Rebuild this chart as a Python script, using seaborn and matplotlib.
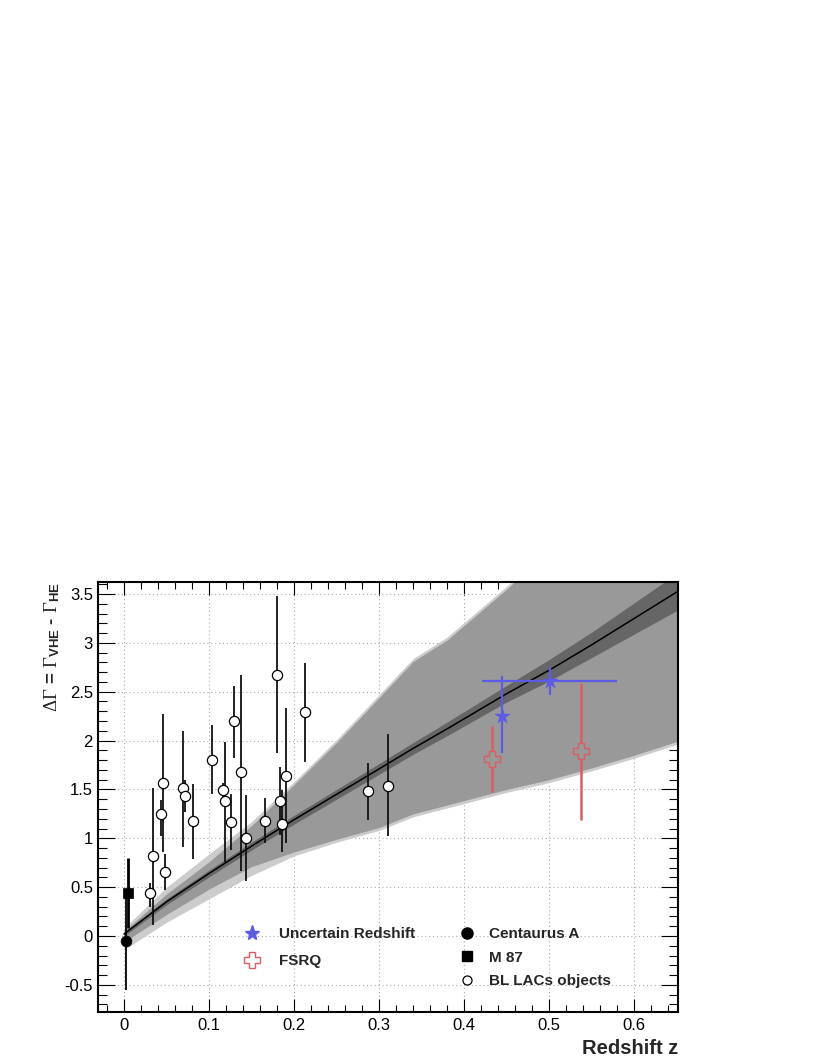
import matplotlib

matplotlib.use("Agg")
import matplotlib.pyplot as plt  # noqa: E402
from matplotlib.lines import Line2D  # noqa: E402
from matplotlib.ticker import FuncFormatter, MultipleLocator  # noqa: E402
import numpy as np  # noqa: E402
import seaborn as sns  # noqa: E402

# --- BL Lac objects: redshift, delta gamma, lower / upper end of error bar
bl_z = [0.031, 0.034, 0.046, 0.044, 0.048, 0.069, 0.072, 0.081, 0.104, 0.1165, 0.119, 0.126,
        0.129, 0.138, 0.143, 0.1655, 0.180, 0.184, 0.186, 0.191, 0.2125, 0.2875, 0.310]
bl_val = [0.44, 0.82, 1.57, 1.245, 0.66, 1.51, 1.43, 1.18, 1.80, 1.49, 1.38, 1.17,
          2.20, 1.675, 1.00, 1.18, 2.675, 1.38, 1.15, 1.64, 2.29, 1.48, 1.54]
bl_lo = [0.30, 0.11, 0.86, 1.02, 0.47, 0.91, 1.27, 0.79, 1.45, 1.41, 0.76, 0.88,
         1.82, 0.67, 0.56, 0.955, 1.87, 1.03, 0.86, 0.955, 1.78, 1.19, 1.02]
bl_hi = [0.54, 1.51, 2.27, 1.39, 0.84, 2.10, 1.60, 1.56, 2.16, 1.57, 1.99, 1.45,
         2.56, 2.67, 1.44, 1.41, 3.48, 1.73, 1.49, 2.33, 2.79, 1.77, 2.07]

# --- Centaurus A and M 87
cena_z, cena_val, cena_lo, cena_hi = [0.0018], [-0.05], [-0.55], [0.45]
m87_z, m87_val, m87_lo, m87_hi = [0.0044], [0.44], [0.08], [0.80]

# --- uncertain redshift (stars) and FSRQ
unc_z = [0.445, 0.5005]
unc_val = [2.255, 2.61]
unc_lo = [1.87, 2.47]
unc_hi = [2.66, 2.75]
unc_zlo = [0.445, 0.421]
unc_zhi = [0.445, 0.580]

fsrq_z = [0.433, 0.537]
fsrq_val = [1.81, 1.89]
fsrq_lo = [1.47, 1.19]
fsrq_hi = [2.15, 2.59]

# --- model curve and its uncertainty bands
band_z = [0.0, 0.05, 0.10, 0.15, 0.20, 0.25, 0.30, 0.34, 0.38, 0.45, 0.50, 0.55, 0.60, 0.65]
fit_y = [0.02, 0.35, 0.64, 0.92, 1.19, 1.45, 1.71, 1.92, 2.12, 2.48, 2.72, 2.98, 3.25, 3.52]
dark_lo = [0.00, 0.32, 0.605, 0.88, 1.145, 1.40, 1.655, 1.86, 2.05, 2.395, 2.61, 2.85, 3.09, 3.33]
dark_hi = [0.04, 0.38, 0.675, 0.96, 1.235, 1.50, 1.765, 1.98, 2.19, 2.565, 2.83, 3.11, 3.41, 3.71]
mid_lo = [-0.06, 0.22, 0.48, 0.71, 0.86, 0.99, 1.11, 1.25, 1.34, 1.50, 1.60, 1.72, 1.85, 1.99]
mid_hi = [0.05, 0.43, 0.76, 1.13, 1.55, 1.98, 2.44, 2.81, 3.03, 3.55, 3.95, 4.30, 4.70, 5.10]
lt_lo = [-0.14, 0.14, 0.38, 0.62, 0.82, 0.96, 1.08, 1.22, 1.31, 1.47, 1.57, 1.69, 1.82, 1.96]
lt_hi = [0.08, 0.50, 0.84, 1.17, 1.58, 2.01, 2.47, 2.84, 3.06, 3.58, 3.98, 4.33, 4.73, 5.13]

BLUE = "#5b5be6"
RED = "#dc5c64"


def yerr(val, lo, hi):
    val, lo, hi = map(np.asarray, (val, lo, hi))
    return [val - lo, hi - val]


sns.set_theme(style="ticks")
plt.rcParams.update({
    "font.family": ["Liberation Sans", "DejaVu Sans"],
    "axes.unicode_minus": False,
    "mathtext.fontset": "custom",
    "mathtext.rm": "Liberation Serif",
    "mathtext.it": "Liberation Serif:italic",
    "mathtext.bf": "Liberation Sans:bold",
    "axes.axisbelow": "line",
})

fig = plt.figure(figsize=(8.22, 10.64), dpi=100)
ax = fig.add_axes([0.11922, 0.04887, 0.70560, 0.40414])
ax.set_facecolor("white")

ax.fill_between(band_z, lt_lo, lt_hi, color="#cccccc", lw=0, zorder=1.6)
ax.fill_between(band_z, mid_lo, mid_hi, color="#999999", lw=0, zorder=1.7)
ax.fill_between(band_z, dark_lo, dark_hi, color="#666666", lw=0, zorder=1.8)
sns.lineplot(x=band_z, y=fit_y, color="black", lw=1.1, ax=ax, zorder=2)

# error bars
ax.errorbar(bl_z, bl_val, yerr=yerr(bl_val, bl_lo, bl_hi), fmt="none",
            ecolor="#111111", elinewidth=1.3, capsize=0, zorder=3)
ax.errorbar(cena_z, cena_val, yerr=yerr(cena_val, cena_lo, cena_hi), fmt="none",
            ecolor="black", elinewidth=1.3, capsize=0, zorder=3)
ax.errorbar(m87_z, m87_val, yerr=yerr(m87_val, m87_lo, m87_hi), fmt="none",
            ecolor="black", elinewidth=2.0, capsize=0, zorder=3)
ax.errorbar(unc_z, unc_val, yerr=yerr(unc_val, unc_lo, unc_hi),
            xerr=yerr(unc_z, unc_zlo, unc_zhi), fmt="none",
            ecolor=BLUE, elinewidth=1.6, capsize=0, zorder=3)
ax.errorbar(fsrq_z, fsrq_val, yerr=yerr(fsrq_val, fsrq_lo, fsrq_hi), fmt="none",
            ecolor=RED, elinewidth=1.8, capsize=0, zorder=3)

# markers
sns.scatterplot(x=bl_z, y=bl_val, marker="o", s=54, color="white",
                edgecolor="black", linewidth=0.9, ax=ax, zorder=4)
sns.scatterplot(x=cena_z, y=cena_val, marker="o", s=60, color="black",
                edgecolor="black", linewidth=0.5, ax=ax, zorder=4)
sns.scatterplot(x=m87_z, y=m87_val, marker="s", s=45, color="black",
                edgecolor="black", linewidth=0.5, ax=ax, zorder=4)
sns.scatterplot(x=unc_z, y=unc_val, marker="*", s=130, color=BLUE,
                edgecolor=BLUE, linewidth=0.3, ax=ax, zorder=4)
sns.scatterplot(x=fsrq_z, y=fsrq_val, marker="P", s=120, color="#999999",
                edgecolor=RED, linewidth=1.0, ax=ax, zorder=4)

# axes
ax.set_xlim(-0.0306, 0.6515)
ax.set_ylim(-0.778, 3.623)
ax.xaxis.set_major_locator(MultipleLocator(0.1))
ax.xaxis.set_minor_locator(MultipleLocator(0.02))
ax.yaxis.set_major_locator(MultipleLocator(0.5))
ax.yaxis.set_minor_locator(MultipleLocator(0.1))
fmt = FuncFormatter(lambda v, _: f"{v:g}")
ax.xaxis.set_major_formatter(fmt)
ax.yaxis.set_major_formatter(fmt)
ax.tick_params(which="both", direction="in", top=True, right=True,
               colors="black", width=0.8, labelsize=12)
ax.tick_params(axis="x", which="major", length=9.4, pad=4.5)
ax.tick_params(axis="x", which="minor", length=4.7)
ax.tick_params(axis="y", which="major", length=12.5, pad=3.6)
ax.tick_params(axis="y", which="minor", length=6.2)
ax.grid(True, which="major", color="#aaaaaa", linestyle=(0, (1, 2.5)), lw=0.8)
for sp in ax.spines.values():
    sp.set_color("black")
    sp.set_linewidth(1.5)
    sp.set_zorder(5)

ax.set_ylabel(r"$\Delta\Gamma$ = $\Gamma_{\mathbf{VHE}}$ - $\Gamma_{\mathbf{HE}}$",
              loc="top", fontsize=13.5, fontweight="bold")
ax.yaxis.set_label_coords(-0.062, 1.0)
ax.set_xlabel("Redshift z", loc="right", fontsize=14.5, fontweight="bold")
ax.xaxis.set_label_coords(1.0, -0.062)

# legends
prop = {"weight": "bold", "size": 11}
h_star = Line2D([], [], ls="none", marker="*", ms=11, color=BLUE, mec=BLUE)
h_cross = Line2D([], [], ls="none", marker="P", ms=12, mfc="white", mec=RED, mew=1.0)
leg1 = ax.legend([h_star, h_cross], ["Uncertain Redshift", "FSRQ"], loc="upper left",
                 bbox_to_anchor=(0.2518, 0.1977), frameon=False, borderpad=0,
                 borderaxespad=0, handlelength=1.0, handletextpad=1.3,
                 labelspacing=0.86, prop=prop)
ax.add_artist(leg1)
h_cena = Line2D([], [], ls="none", marker="o", ms=8, color="black")
h_m87 = Line2D([], [], ls="none", marker="s", ms=7, color="black")
h_bl = Line2D([], [], ls="none", marker="o", ms=6.5, mfc="white", mec="black", mew=0.9)
ax.legend([h_cena, h_m87, h_bl], ["Centaurus A", "M 87", "BL LACs objects"],
          loc="upper left", bbox_to_anchor=(0.623, 0.1977), frameon=False,
          borderpad=0, borderaxespad=0, handlelength=1.0, handletextpad=0.96,
          labelspacing=0.63, prop=prop)

fig.savefig("out.png", dpi=100, facecolor="white")
